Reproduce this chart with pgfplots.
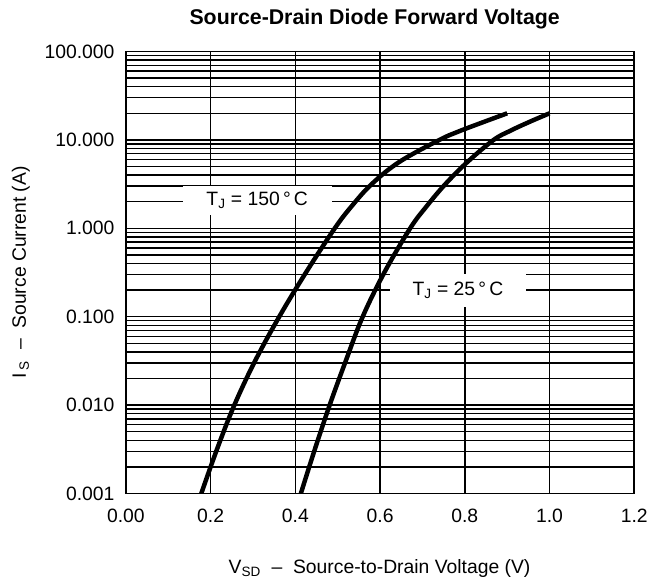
\documentclass[border=0pt]{standalone}
\usepackage{fontspec}
\setmainfont{Liberation Sans}
\usepackage{pgfplots}
\pgfplotsset{compat=1.18}
\pgfplotstableread{
V I
0.178 0.001
0.215 0.00316
0.256 0.01
0.305 0.0316
0.362 0.1
0.425 0.316
0.493 1.0
0.533 1.78
0.580 3.16
0.645 5.62
0.740 10.0
0.788 12.6
0.842 15.8
0.900 20.0
}\hot
\pgfplotstableread{
V I
0.413 0.001
0.446 0.00316
0.481 0.01
0.519 0.0316
0.559 0.1
0.610 0.316
0.671 1.0
0.710 1.78
0.754 3.16
0.806 5.62
0.868 10.0
0.906 12.6
0.950 15.8
1.000 20.0
}\cold
\begin{document}
\begin{tikzpicture}
\begin{axis}[
  scale only axis, width=513pt, height=446pt,
  at={(0,0)}, anchor=south west,
  xmin=0, xmax=1.2, ymode=log, ymin=0.001, ymax=100,
  xtick={0,0.2,0.4,0.6,0.8,1.0,1.2},
  xticklabels={0.00,0.2,0.4,0.6,0.8,1.0,1.2},
  ytick={0.001,0.01,0.1,1,10,100},
  yticklabels={0.001,0.010,0.100,1.000,10.000,100.000},
  grid=both,
  major grid style={black, line width=1.5pt},
  minor grid style={black, line width=1.4pt},
  axis line style={black, line width=1.6pt},
  tick style={draw=none},
  ticklabel style={font=\fontsize{19.5}{22}\selectfont},
  xticklabel style={yshift=-12pt},
  yticklabel style={xshift=-8pt},
  clip=true,
]
\node[fill=white, inner sep=0pt, minimum width=150pt, minimum height=29pt, font=\fontsize{19.5}{22}\selectfont] at (axis cs:0.31,2.08) {T\textsubscript{J} = 150\,°\,C};
\node[fill=white, inner sep=0pt, minimum width=138pt, minimum height=33pt, font=\fontsize{19.5}{22}\selectfont] at (axis cs:0.784,0.199) {T\textsubscript{J} = 25\,°\,C};
\addplot[black, line width=4.5pt, smooth, tension=0.6] table[x=V,y=I] {\hot};
\addplot[black, line width=4.5pt, smooth, tension=0.6] table[x=V,y=I] {\cold};
\end{axis}
\node[font=\bfseries\fontsize{21.5}{24}\selectfont] at (251pt,479pt) {Source-Drain Diode Forward Voltage};
\node[font=\fontsize{19.5}{22}\selectfont] at (256pt,-76pt) {V\textsubscript{SD}\ \ –\ \ Source-to-Drain Voltage (V)};
\node[font=\fontsize{19.5}{22}\selectfont, rotate=90] at (-106pt,223pt) {I\,\textsubscript{S}\ \ –\ \ Source Current (A)};
\path[use as bounding box] (-127pt,-84pt) rectangle (524pt,498pt);
\end{tikzpicture}
\end{document}
